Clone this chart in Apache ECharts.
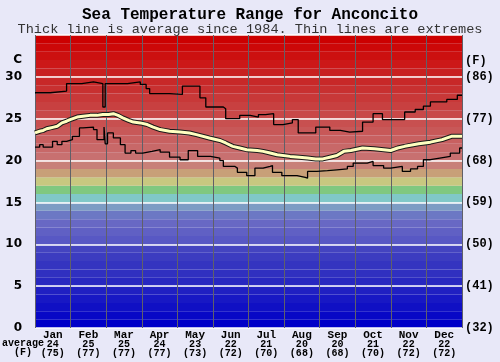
<!DOCTYPE html>
<html>
<head>
<meta charset="utf-8">
<script src="https://cdn.jsdelivr.net/npm/echarts@6/dist/echarts.min.js"></script>
<style>
html,body{margin:0;padding:0;background:#e8e8f8;}
#c{width:500px;height:362px;}
</style>
</head>
<body>
<div id="c"></div>
<script>
// ---- data ----
const months = ['Jan','Feb','Mar','Apr','May','Jun','Jul','Aug','Sep','Oct','Nov','Dec'];
const monthAvgC = [24,25,25,24,23,22,21,20,20,21,22,22];
const monthAvgF = [75,77,77,77,73,72,70,68,68,70,72,72];
const tickC = [0,5,10,15,20,25,30];
const tickF = [32,41,50,59,68,77,86];

// average (day of year, temperature C)
const avgDay  = [0,4,7,10,13,16,19,23,27,30,36,41,47,53,58,63,67,71,75,80,84,90,96,101,107,115,124,132,138,149,158,163,169,175,181,190,195,201,207,218,226,233,240,246,252,258,264,270,280,290,298,304,310,316,328,338,348,356,365];
const avgTemp = [23.3,23.5,23.6,23.8,23.9,24.0,24.1,24.5,24.7,24.9,25.2,25.3,25.4,25.4,25.5,25.5,25.6,25.4,25.1,24.8,24.6,24.5,24.3,24.0,23.7,23.5,23.4,23.3,23.1,22.7,22.4,22.1,21.7,21.5,21.3,21.2,21.1,20.9,20.7,20.5,20.4,20.3,20.2,20.2,20.4,20.6,21.1,21.2,21.5,21.4,21.3,21.2,21.5,21.7,22.0,22.2,22.5,22.9,22.9];

// highest extreme
const maxDay  = [0,13,27,40,50,58,60,79,90,95,98,115,126,139,141,146,161,163,175,184,191,197,204,212,220,225,240,252,261,269,280,289,297,316,325,332,338,352,361,365];
const maxTemp = [28.1,28.3,29.2,29.4,29.2,26.4,29.2,29.4,29.1,28.6,28.0,27.9,28.9,28.9,27.5,26.4,26.2,25.0,25.4,25.2,25.5,25.6,24.3,24.5,24.9,23.3,24.0,23.6,23.4,23.5,24.6,25.6,24.9,25.8,26.1,26.5,27.0,27.3,27.8,27.8];

// lowest extreme
const minDay  = [0,4,7,15,19,23,27,32,38,41,50,53,59,60,62,67,73,77,82,86,92,100,107,115,124,131,139,150,158,161,171,173,181,188,195,201,203,211,224,231,233,241,250,258,267,272,284,289,298,304,314,321,327,332,338,346,355,363,365];
const minTemp = [21.6,21.9,21.6,22.3,21.9,22.3,22.5,22.9,23.9,24.0,23.7,22.5,24.0,22.0,23.3,22.7,21.9,20.9,21.2,20.9,21.1,21.3,21.0,20.4,20.1,21.2,20.5,20.3,20.0,19.3,19.1,18.6,18.2,19.1,19.3,19.4,18.6,18.2,18.0,17.9,18.7,18.8,18.9,19.0,19.3,19.7,19.9,19.4,19.1,19.3,18.7,19.0,19.3,20.1,20.3,20.5,20.9,21.5,21.5];

// background colour bands, one per degree from 0 to 35
const bandColors = ['#0000c8','#0808c6','#1010c4','#1818c4','#2020c2','#2828c0','#3030c0','#3434c0','#3c3cc0','#4444c0',
  '#5858c4','#6060c4','#6868c4','#6c78c4','#7c9cc4','#80c8c8','#80c880','#c8c880','#c8a078','#c88078',
  '#c87070','#c86868','#c86060','#c85858','#c85050','#c84848','#c84040','#c83838','#c83030','#c82828',
  '#c82020','#cc1818','#cc1010','#cc0808','#cc0000'];

const zip = (a, b) => a.map((v, i) => [v, b[i]]);
const mono = '"Courier New", "Liberation Mono", monospace';

const bandAreas = bandColors.map((c, i) => [{yAxis: i, itemStyle: {color: c}}, {yAxis: i + 1}]);

const chart = echarts.init(document.getElementById('c'), null, {renderer: 'canvas'});
chart.setOption({
  animation: false,
  backgroundColor: '#e8e8f8',
  title: [
    {text: 'Sea Temperature Range for Anconcito', left: 'center', top: 2,
     textStyle: {fontFamily: mono, fontWeight: 'bold', fontSize: 16, color: '#000'}},
    {text: 'Thick line is average since 1984. Thin lines are extremes', left: 'center', top: 17,
     textStyle: {fontFamily: mono, fontWeight: 'normal', fontSize: 13.6, color: '#333'}}
  ],
  grid: {left: 35, right: 38, top: 35, bottom: 34, containLabel: false},
  xAxis: [
    {type: 'category', data: months, boundaryGap: true, z: 2,
     axisLine: {show: false}, axisTick: {show: false},
     splitLine: {show: true, lineStyle: {color: '#606068', width: 1}},
     axisLabel: {margin: 2, interval: 0,
       formatter: (v, i) => `{m|${v}}\n{v|${monthAvgC[i]}}\n{f|(${monthAvgF[i]})}`,
       rich: {
         m: {fontFamily: mono, fontWeight: 'bold', fontSize: 11, lineHeight: 9.5, color: '#000'},
         v: {fontFamily: mono, fontWeight: 'bold', fontSize: 10, lineHeight: 9.5, color: '#000'},
         f: {fontFamily: mono, fontWeight: 'bold', fontSize: 10, lineHeight: 9.5, color: '#000'}
       }}},
    {type: 'value', min: 0, max: 365, show: false}
  ],
  yAxis: [
    {type: 'value', min: 0, max: 35, interval: 5, position: 'left', z: 2,
     axisLine: {show: false}, axisTick: {show: false},
     splitLine: {show: true, lineStyle: {color: '#ffffff', width: 1.5}},
     axisLabel: {margin: 13, showMaxLabel: false, color: '#000', fontFamily: '"DejaVu Sans", Verdana, sans-serif',
       fontWeight: 'bold', fontSize: 12, formatter: v => tickC.includes(v) ? String(v) : ''}},
    {type: 'value', min: 0, max: 35, interval: 5, position: 'right',
     axisLine: {show: false}, axisTick: {show: false}, splitLine: {show: false},
     axisLabel: {margin: 3, showMaxLabel: false, color: '#000', fontFamily: mono, fontWeight: 'bold', fontSize: 12,
       formatter: v => tickC.includes(v) ? '(' + tickF[tickC.indexOf(v)] + ')' : ''}}
  ],
  graphic: [
    {type: 'text', right: 478, top: 54, style: {text: 'C', fontFamily: '"DejaVu Sans", sans-serif', fontWeight: 'bold', fontSize: 12, fill: '#000', textAlign: 'right'}},
    {type: 'text', left: 465, top: 55, style: {text: '(F)', fontFamily: mono, fontWeight: 'bold', fontSize: 12, fill: '#000'}},
    {type: 'text', left: 2, top: 338, style: {text: 'average\n  (F)', fontFamily: mono, fontWeight: 'bold', fontSize: 10, lineHeight: 9.5, fill: '#000'}}
  ],
  series: [
    {name: 'bands', type: 'line', xAxisIndex: 1, yAxisIndex: 0, z: 1, silent: true,
     data: [[0, 0]], symbol: 'none', lineStyle: {opacity: 0},
     markArea: {silent: true, data: bandAreas}},
    {name: 'max', type: 'line', xAxisIndex: 1, yAxisIndex: 0, z: 3, step: 'end', symbol: 'none',
     data: zip(maxDay, maxTemp), lineStyle: {color: '#000', width: 1.3}},
    {name: 'min', type: 'line', xAxisIndex: 1, yAxisIndex: 0, z: 3, step: 'end', symbol: 'none',
     data: zip(minDay, minTemp), lineStyle: {color: '#000', width: 1.3}},
    {name: 'avgOutline', type: 'line', xAxisIndex: 1, yAxisIndex: 0, z: 4, symbol: 'none',
     data: zip(avgDay, avgTemp), lineStyle: {color: '#1a1a1a', width: 5}},
    {name: 'avg', type: 'line', xAxisIndex: 1, yAxisIndex: 0, z: 5, symbol: 'none',
     data: zip(avgDay, avgTemp), lineStyle: {color: '#ffffc0', width: 3}}
  ]
});
</script>
</body>
</html>
